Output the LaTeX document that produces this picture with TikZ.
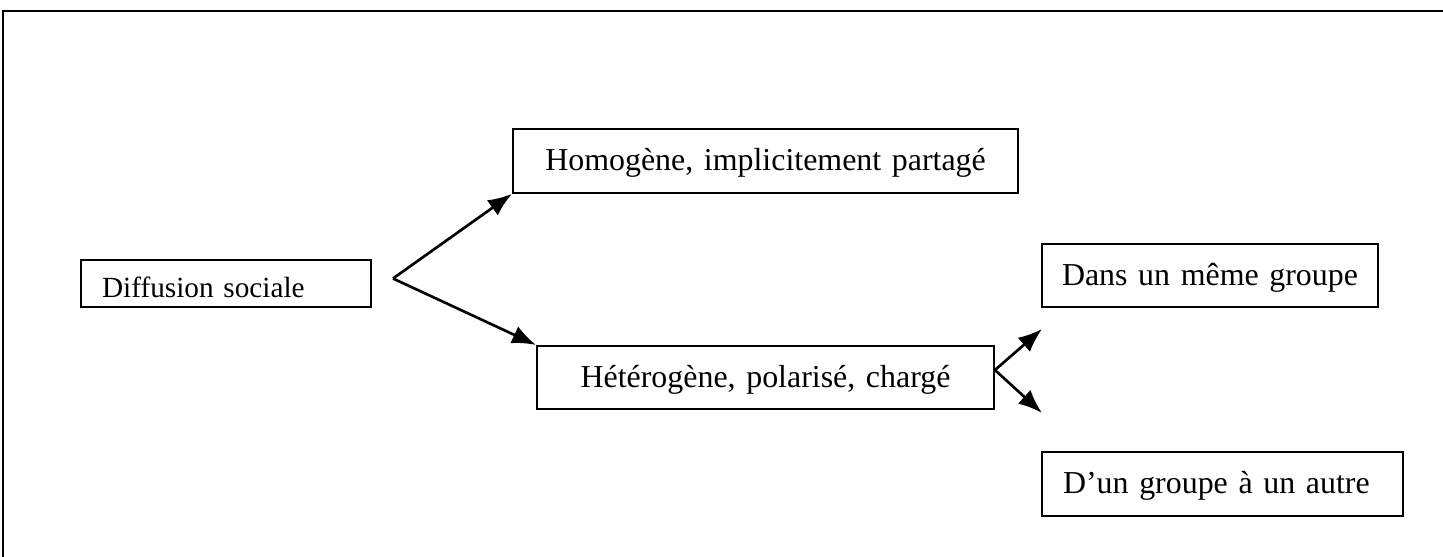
\documentclass[tikz,border=0pt]{standalone}
\usepackage{fontspec}
\setmainfont{Liberation Serif}
\usetikzlibrary{positioning}
\usetikzlibrary{arrows.meta}

\begin{document}
\begin{tikzpicture}[x=0.376pt,y=-0.376pt,>={Latex[length=9pt,width=7pt]},boite/.style={draw, line width=0.75pt, inner xsep=7.9pt, inner ysep=0pt, minimum height=24pt, text height=9pt, text depth=1.5pt, font=\fontsize{12pt}{14pt}\selectfont},fleche/.style={->, line width=1pt},]
    \useasboundingbox (0,0) rectangle (1443,557);
    \draw[line width=0.75pt] (3,557) -- (3,11) -- (1443,11);
    \node [boite, text width=93.2pt, align=left, minimum height=17.7pt, text height=11pt, text depth=0.1pt, font=\fontsize{11pt}{13pt}\selectfont] (diffusion) at (226,283.5) {Diffusion sociale};
    \node [boite, text width=174.1pt, align=center] (homogene) at (765.5,161) {Homogène, implicitement partagé};
    \node [boite, below=56.8pt of homogene, text width=156pt, align=center, minimum height=23.7pt] (hetero) {Hétérogène, polarisé, chargé};
    \node [boite, inner xsep=2pt, text width=122.3pt, align=center, minimum height=23.7pt] (dans) at (1210,275.5) {Dans un même groupe};
    \node [boite, below=53.8pt of dans.south west, anchor=north west, text width=119.9pt, align=left] (autre) {D’un groupe à un autre};
    \coordinate (fourche) at (393,278.5);
    \coordinate (haut) at (1042,329);
    \coordinate (bas) at (1042,413);
    \path[fleche] (fourche) edge (homogene.south west);
    \path[fleche] (fourche) edge (hetero.north west);
    \path[fleche] ([yshift=2.8pt]hetero.east) edge (haut);
    \path[fleche] ([yshift=2.8pt]hetero.east) edge (bas);
\end{tikzpicture}
\end{document}
